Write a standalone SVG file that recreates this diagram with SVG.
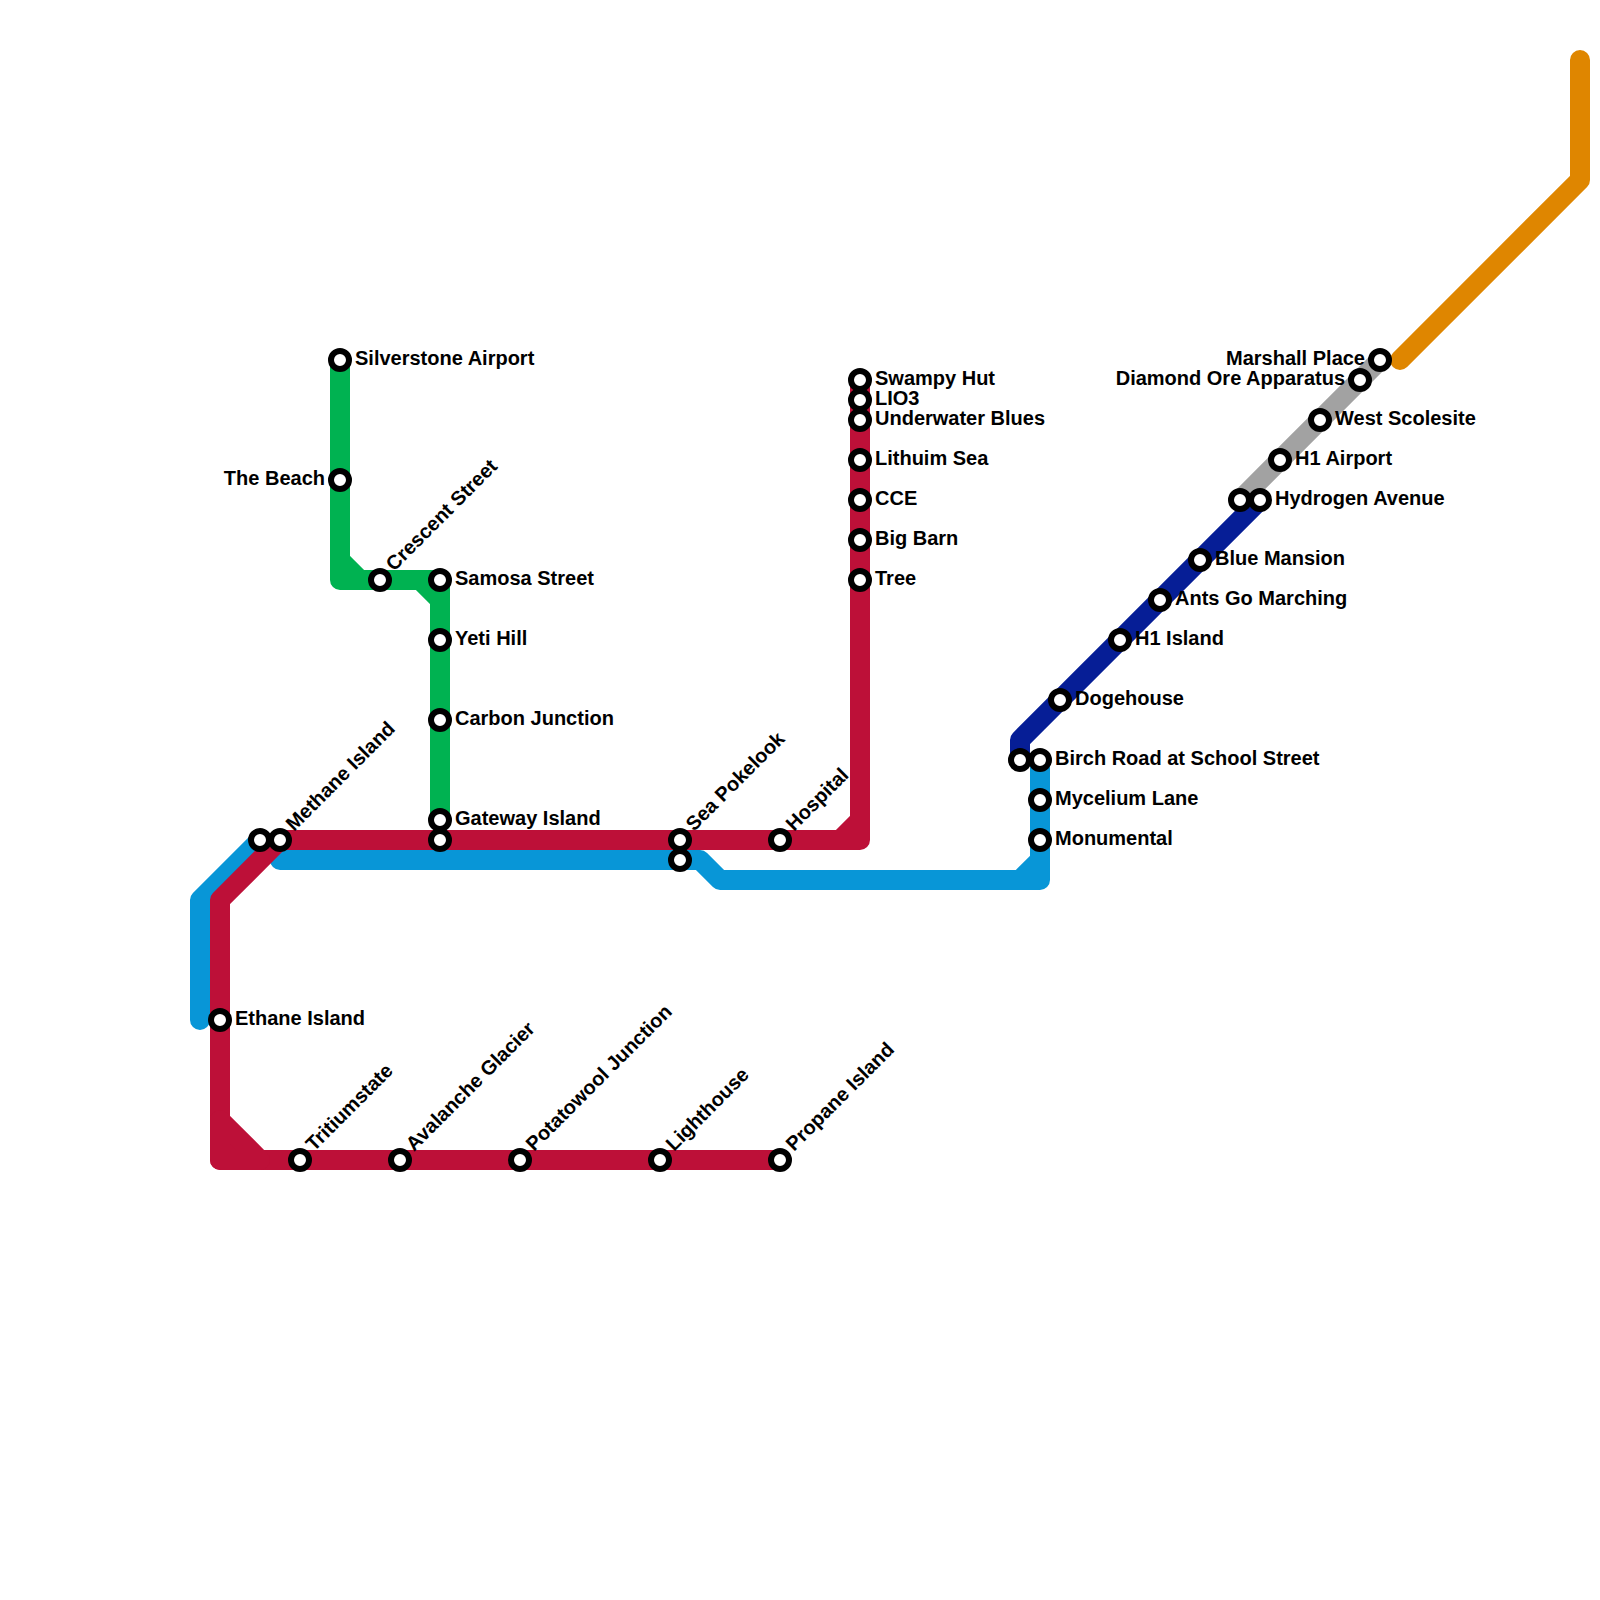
<svg xmlns="http://www.w3.org/2000/svg" width="1600" height="1600" viewBox="0 0 1600 1600">
<style>
.l{fill:none;stroke-width:20;stroke-linecap:round;stroke-linejoin:round}
.blue{stroke:#0896d7}.red{stroke:#bd1038}.green{stroke:#00b251}.navy{stroke:#061e96}.gray{stroke:#a2a2a2}.orange{stroke:#df8600}
.s{fill:#fff;stroke:#000;stroke-width:6}
text{font-family:"Liberation Sans",Arial,sans-serif;font-weight:700;font-size:20px;fill:#000}
.e{text-anchor:end}
</style>
<rect width="1600" height="1600" fill="#fff"/>
<g id="connectors">
<path class="l orange" d="M1400 360L1580 180V60"/>
<path class="l gray" d="M1240 500L1380 360"/>
<path class="l navy" d="M1020 760V740L1260 500"/>
<path class="l blue" d="M200 1020V900L260 840"/>
<path class="l blue" d="M280 860H700L720 880H1040V760M1020 880L1040 860"/>
<path class="l green" d="M340 360V580H440V820M340 560L360 580M420 580L440 600"/>
<path class="l red" d="M860 380V840H280L220 900V1160H780M840 840L860 820"/>
<path class="l red" style="fill:#bd1038" d="M220 1120L260 1160H220Z"/>
</g>
<g id="n-silverstone"><circle class="s" cx="340" cy="360" r="9"/><text x="355" y="365">Silverstone Airport</text></g>
<g id="n-beach"><circle class="s" cx="340" cy="480" r="9"/><text class="e" x="325" y="485">The Beach</text></g>
<g id="n-crescent"><circle class="s" cx="380" cy="580" r="9"/><text transform="translate(394 572) rotate(-45)">Crescent Street</text></g>
<g id="n-samosa"><circle class="s" cx="440" cy="580" r="9"/><text x="455" y="585">Samosa Street</text></g>
<g id="n-yeti"><circle class="s" cx="440" cy="640" r="9"/><text x="455" y="645">Yeti Hill</text></g>
<g id="n-carbon"><circle class="s" cx="440" cy="720" r="9"/><text x="455" y="725">Carbon Junction</text></g>
<g id="n-gateway"><circle class="s" cx="440" cy="820" r="9"/><text x="455" y="825">Gateway Island</text></g>
<g id="n-gateway2"><circle class="s" cx="440" cy="840" r="9"/></g>
<g id="n-methane2"><circle class="s" cx="260" cy="840" r="9"/></g>
<g id="n-methane"><circle class="s" cx="280" cy="840" r="9"/><text transform="translate(294 832) rotate(-45)">Methane Island</text></g>
<g id="n-ethane"><circle class="s" cx="220" cy="1020" r="9"/><text x="235" y="1025">Ethane Island</text></g>
<g id="n-tritium"><circle class="s" cx="300" cy="1160" r="9"/><text transform="translate(314 1152) rotate(-45)">Tritiumstate</text></g>
<g id="n-avalanche"><circle class="s" cx="400" cy="1160" r="9"/><text transform="translate(414 1152) rotate(-45)">Avalanche Glacier</text></g>
<g id="n-potatowool"><circle class="s" cx="520" cy="1160" r="9"/><text transform="translate(534 1152) rotate(-45)">Potatowool Junction</text></g>
<g id="n-lighthouse"><circle class="s" cx="660" cy="1160" r="9"/><text transform="translate(674 1152) rotate(-45)">Lighthouse</text></g>
<g id="n-propane"><circle class="s" cx="780" cy="1160" r="9"/><text transform="translate(794 1152) rotate(-45)">Propane Island</text></g>
<g id="n-sea"><circle class="s" cx="680" cy="840" r="9"/><text transform="translate(694 832) rotate(-45)">Sea Pokelook</text></g>
<g id="n-sea2"><circle class="s" cx="680" cy="860" r="9"/></g>
<g id="n-hospital"><circle class="s" cx="780" cy="840" r="9"/><text transform="translate(794 832) rotate(-45)">Hospital</text></g>
<g id="n-swampy"><circle class="s" cx="860" cy="380" r="9"/><text x="875" y="385">Swampy Hut</text></g>
<g id="n-lio3"><circle class="s" cx="860" cy="400" r="9"/><text x="875" y="405">LIO3</text></g>
<g id="n-underwater"><circle class="s" cx="860" cy="420" r="9"/><text x="875" y="425">Underwater Blues</text></g>
<g id="n-lithuim"><circle class="s" cx="860" cy="460" r="9"/><text x="875" y="465">Lithuim Sea</text></g>
<g id="n-cce"><circle class="s" cx="860" cy="500" r="9"/><text x="875" y="505">CCE</text></g>
<g id="n-bigbarn"><circle class="s" cx="860" cy="540" r="9"/><text x="875" y="545">Big Barn</text></g>
<g id="n-tree"><circle class="s" cx="860" cy="580" r="9"/><text x="875" y="585">Tree</text></g>
<g id="n-birch2"><circle class="s" cx="1020" cy="760" r="9"/></g>
<g id="n-birch"><circle class="s" cx="1040" cy="760" r="9"/><text x="1055" y="765">Birch Road at School Street</text></g>
<g id="n-mycelium"><circle class="s" cx="1040" cy="800" r="9"/><text x="1055" y="805">Mycelium Lane</text></g>
<g id="n-monumental"><circle class="s" cx="1040" cy="840" r="9"/><text x="1055" y="845">Monumental</text></g>
<g id="n-dogehouse"><circle class="s" cx="1060" cy="700" r="9"/><text x="1075" y="705">Dogehouse</text></g>
<g id="n-h1island"><circle class="s" cx="1120" cy="640" r="9"/><text x="1135" y="645">H1 Island</text></g>
<g id="n-ants"><circle class="s" cx="1160" cy="600" r="9"/><text x="1175" y="605">Ants Go Marching</text></g>
<g id="n-bluemansion"><circle class="s" cx="1200" cy="560" r="9"/><text x="1215" y="565">Blue Mansion</text></g>
<g id="n-hydrogen2"><circle class="s" cx="1240" cy="500" r="9"/></g>
<g id="n-hydrogen"><circle class="s" cx="1260" cy="500" r="9"/><text x="1275" y="505">Hydrogen Avenue</text></g>
<g id="n-h1airport"><circle class="s" cx="1280" cy="460" r="9"/><text x="1295" y="465">H1 Airport</text></g>
<g id="n-west"><circle class="s" cx="1320" cy="420" r="9"/><text x="1335" y="425">West Scolesite</text></g>
<g id="n-diamond"><circle class="s" cx="1360" cy="380" r="9"/><text class="e" x="1345" y="385">Diamond Ore Apparatus</text></g>
<g id="n-marshall"><circle class="s" cx="1380" cy="360" r="9"/><text class="e" x="1365" y="365">Marshall Place</text></g>
</svg>
